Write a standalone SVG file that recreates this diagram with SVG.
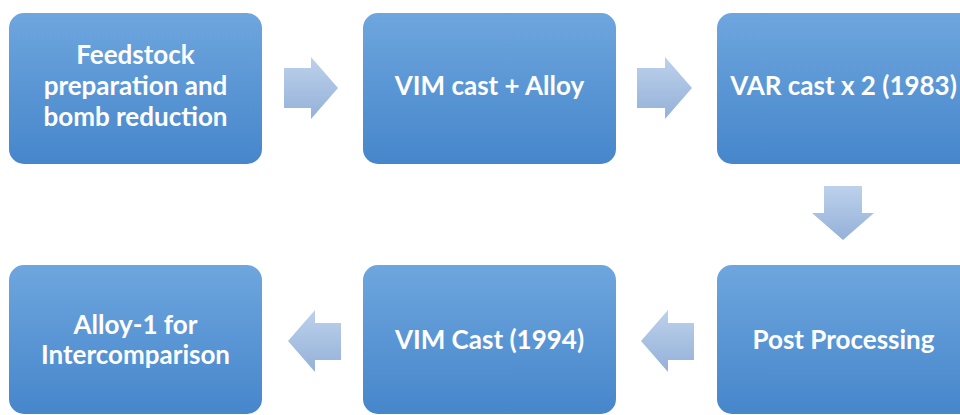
<svg xmlns="http://www.w3.org/2000/svg" width="960" height="415" viewBox="0 0 960 415">
  <defs>
    <linearGradient id="boxFill" x1="0" y1="0" x2="0" y2="1">
      <stop offset="0" stop-color="#6ea6de"/>
      <stop offset="1" stop-color="#4686cb"/>
    </linearGradient>
    <linearGradient id="arrowFill" x1="0" y1="0" x2="0" y2="1">
      <stop offset="0" stop-color="#bdd1eb"/>
      <stop offset="1" stop-color="#94b1d9"/>
    </linearGradient>
    <style>
      .box { fill: url(#boxFill); }
      .arrow { fill: url(#arrowFill); }
      .label { font-family: Lato, "Open Sans", "Liberation Sans", sans-serif; font-weight: bold; font-size: 26px; fill: #ffffff; text-anchor: middle; }
    </style>
  </defs>

  <rect width="960" height="415" fill="#ffffff"/>

  <!-- process steps -->
  <g id="feedstock">
    <rect class="box" x="9" y="13" width="253" height="151" rx="15"/>
    <text class="label" x="135.5" y="64">Feedstock</text>
    <text class="label" x="135.5" y="95">preparation and</text>
    <text class="label" x="135.5" y="126">bomb reduction</text>
  </g>

  <g id="vim-cast-alloy">
    <rect class="box" x="363" y="13" width="253" height="151" rx="15"/>
    <text class="label" x="489.5" y="95">VIM cast + Alloy</text>
  </g>

  <g id="var-cast">
    <rect class="box" x="717" y="13" width="260" height="151" rx="15"/>
    <text class="label" x="843.5" y="95">VAR cast x 2 (1983)</text>
  </g>

  <g id="post-processing">
    <rect class="box" x="717" y="265" width="260" height="149" rx="15"/>
    <text class="label" x="843.5" y="349">Post Processing</text>
  </g>

  <g id="vim-cast-1994">
    <rect class="box" x="363" y="265" width="253" height="149" rx="15"/>
    <text class="label" x="489.5" y="349">VIM Cast (1994)</text>
  </g>

  <g id="alloy-1">
    <rect class="box" x="9" y="265" width="253" height="149" rx="15"/>
    <text class="label" x="135.5" y="334">Alloy-1 for</text>
    <text class="label" x="135.5" y="364">Intercomparison</text>
  </g>

  <!-- block arrows between steps -->
  <g id="connectors">
    <polygon class="arrow" points="284,68 311,68 311,57 338,88 311,119 311,108 284,108"/>
    <polygon class="arrow" points="637,68 665,68 665,57 692,88 665,119 665,108 637,108"/>
    <polygon class="arrow" points="824,186 862,186 862,213 874,213 843,240 812,213 824,213"/>
    <polygon class="arrow" points="694,323 668,323 668,310 641,341 668,372 668,360 694,360"/>
    <polygon class="arrow" points="341,323 315,323 315,310 288,341 315,372 315,360 341,360"/>
  </g>
</svg>
